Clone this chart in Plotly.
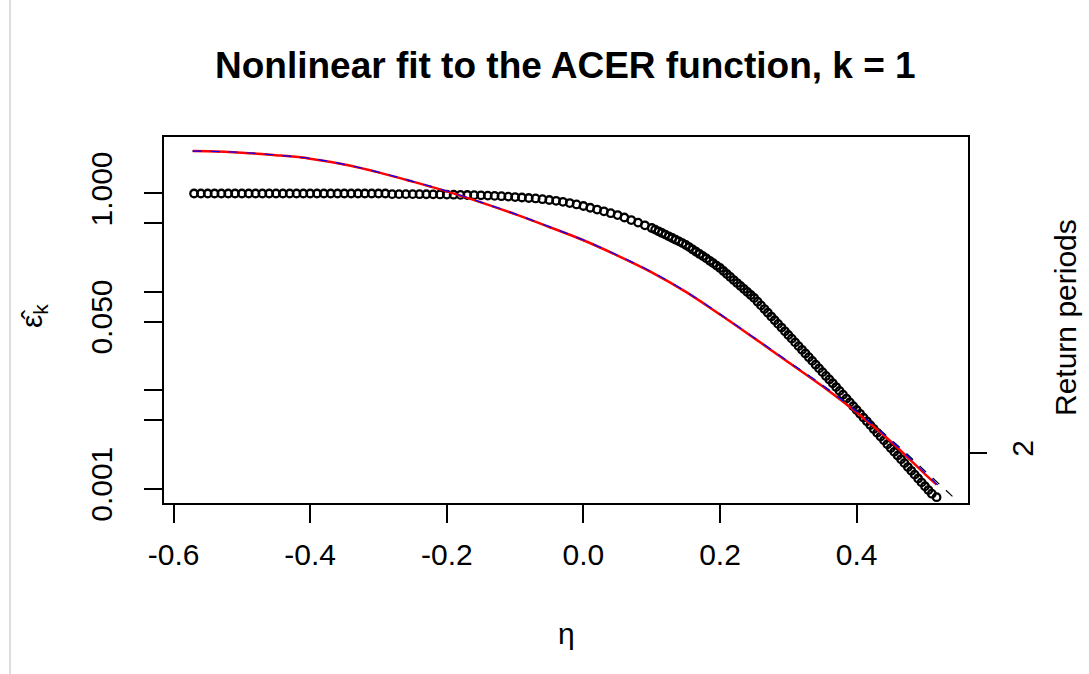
import plotly.graph_objects as go

# Empirical ACER estimates (open circles), coarse grid
eta_pts = [
    -0.57, -0.56, -0.55, -0.54, -0.53, -0.52, -0.51, -0.50, -0.49, -0.48,
    -0.47, -0.46, -0.45, -0.44, -0.43, -0.42, -0.41, -0.40, -0.39, -0.38,
    -0.37, -0.36, -0.35, -0.34, -0.33, -0.32, -0.31, -0.30, -0.29,
    -0.28, -0.27, -0.26, -0.25, -0.24, -0.23, -0.22, -0.21, -0.20, -0.19,
    -0.18, -0.17, -0.16, -0.15, -0.14, -0.13, -0.12, -0.11, -0.10, -0.09,
    -0.08, -0.07, -0.06, -0.05, -0.04, -0.03, -0.02, -0.01,
    0.00, 0.01, 0.02, 0.03, 0.04, 0.05, 0.06, 0.07, 0.08, 0.09,
    0.10, 0.11, 0.12, 0.13, 0.14, 0.15, 0.16, 0.17, 0.18, 0.19,
    0.20, 0.21, 0.22, 0.23, 0.24, 0.25, 0.26, 0.27, 0.28, 0.29,
    0.30, 0.31, 0.32, 0.33, 0.34, 0.35, 0.36, 0.37, 0.38, 0.39,
    0.40, 0.41, 0.42, 0.43, 0.44, 0.45, 0.46, 0.47, 0.48, 0.49,
    0.50, 0.51, 0.517,
]
acer_pts = [
    1.0, 1.0, 1.0, 1.0, 1.0, 1.0, 1.0, 1.0, 1.0, 1.0,
    1.0, 1.0, 1.0, 1.0, 1.0, 1.0, 1.0, 1.0, 1.0, 1.0,
    1.0, 1.0, 1.0, 1.0, 1.0, 1.0, 1.0, 1.0, 1.0,
    0.985, 0.985, 0.985, 0.985, 0.983, 0.982, 0.980, 0.978, 0.975, 0.972,
    0.968, 0.965, 0.962, 0.958, 0.952, 0.945, 0.938, 0.930, 0.920, 0.910,
    0.900, 0.890, 0.875, 0.859, 0.843, 0.823, 0.800, 0.774,
    0.746, 0.716, 0.687, 0.659, 0.631, 0.604, 0.570, 0.537, 0.506, 0.475,
    0.446, 0.413, 0.382, 0.353, 0.326, 0.300, 0.270, 0.243, 0.219, 0.196,
    0.175, 0.152, 0.132, 0.115, 0.0998, 0.0867, 0.0729, 0.0614, 0.0515, 0.0434,
    0.0365, 0.0307, 0.0258, 0.0217, 0.0182, 0.0153, 0.0129, 0.0108, 0.00902, 0.00754,
    0.00631, 0.00528, 0.00443, 0.00370, 0.00310, 0.00259, 0.00217, 0.00182, 0.00152, 0.00127,
    0.00106, 0.00089, 0.00082,
]

# Extra estimates between the grid levels on the steep tail
eta_pts_tail = [
    0.105, 0.115, 0.125, 0.135, 0.145, 0.155, 0.165, 0.175, 0.185, 0.195,
    0.205, 0.215, 0.225, 0.235, 0.245, 0.255, 0.265, 0.275, 0.285, 0.295,
    0.305, 0.315, 0.325, 0.335, 0.345, 0.355, 0.365, 0.375, 0.385, 0.395,
    0.405, 0.415, 0.425, 0.435, 0.445, 0.455, 0.465, 0.475, 0.485, 0.495,
    0.505,
]
acer_pts_tail = [
    0.429, 0.397, 0.367, 0.339, 0.313, 0.285, 0.256, 0.231, 0.207, 0.185,
    0.163, 0.142, 0.123, 0.107, 0.0930, 0.0795, 0.0669, 0.0562, 0.0473, 0.0398,
    0.0335, 0.0281, 0.0237, 0.0199, 0.0167, 0.0140, 0.0118, 0.00987, 0.00825, 0.00690,
    0.00577, 0.00484, 0.00405, 0.00339, 0.00283, 0.00237, 0.00199, 0.00166, 0.00139, 0.00116,
    0.00097,
]

# Fitted ACER curve and its bounds
eta_fit = [-0.572, -0.55, -0.50, -0.45, -0.40, -0.35, -0.30, -0.25, -0.20, -0.15,
           -0.10, -0.05, 0.00, 0.05, 0.10, 0.15, 0.20, 0.25, 0.30, 0.35,
           0.40, 0.45, 0.50, 0.517]
fit_vals = [2.70, 2.69, 2.60, 2.45, 2.26, 1.97, 1.64, 1.32, 1.05, 0.813,
            0.617, 0.457, 0.335, 0.234, 0.158, 0.100, 0.0589, 0.0339, 0.0193, 0.0110,
            0.00596, 0.00302, 0.00141, 0.00110]

eta_upper = [-0.572, -0.55, -0.50, -0.45, -0.40, -0.35, -0.30, -0.25, -0.20, -0.15,
             -0.10, -0.05, 0.00, 0.05, 0.10, 0.15, 0.20, 0.25, 0.30, 0.35,
             0.40, 0.45, 0.50, 0.525]
upper_vals = [2.70, 2.69, 2.61, 2.46, 2.27, 1.98, 1.65, 1.33, 1.06, 0.818,
              0.620, 0.460, 0.337, 0.236, 0.160, 0.101, 0.0595, 0.0343, 0.0196, 0.0112,
              0.00610, 0.00310, 0.00146, 0.00098]

eta_lower = [-0.572, -0.55, -0.50, -0.45, -0.40, -0.35, -0.30, -0.25, -0.20, -0.15,
             -0.10, -0.05, 0.00, 0.05, 0.10, 0.15, 0.20, 0.25, 0.30, 0.35,
             0.40, 0.45, 0.50, 0.545]
lower_vals = [2.69, 2.68, 2.59, 2.44, 2.25, 1.96, 1.63, 1.31, 1.04, 0.808,
              0.612, 0.453, 0.332, 0.232, 0.157, 0.0995, 0.0587, 0.0340, 0.0195, 0.0113,
              0.00620, 0.00318, 0.00152, 0.00078]

x_ticks = [-0.6, -0.4, -0.2, 0.0, 0.2, 0.4]
x_tick_labels = ["-0.6", "-0.4", "-0.2", "0.0", "0.2", "0.4"]
y_ticks = [0.001, 0.05, 1.0]
y_tick_labels = ["0.001", "0.050", "1.000"]
y_minor_ticks = [0.005, 0.01, 0.1, 0.5]
rp_ticks = [0.00231]
rp_labels = ["2"]

FONT = "Liberation Sans, Arial, sans-serif"
W, H = 1089, 674
L, R, T, B = 164, 121, 137, 171
PW, PH = W - L - R, H - T - B


def px(x):
    return (x - L) / PW


def py(y):
    return 1 - (y - T) / PH


circle = dict(symbol="circle-open", size=7.5, color="black", line=dict(width=2.3))

fig = go.Figure()

fig.add_trace(go.Scatter(x=eta_pts, y=acer_pts, mode="markers", marker=circle,
                         showlegend=False, hoverinfo="skip"))
fig.add_trace(go.Scatter(x=eta_pts_tail, y=acer_pts_tail, mode="markers", marker=circle,
                         showlegend=False, hoverinfo="skip"))
fig.add_trace(go.Scatter(
    x=eta_lower, y=lower_vals, mode="lines", line_shape="spline",
    line=dict(color="black", width=1.2, dash="dash"), showlegend=False,
))
fig.add_trace(go.Scatter(
    x=eta_fit, y=fit_vals, mode="lines", line_shape="spline",
    line=dict(color="red", width=2.5), showlegend=False,
))
fig.add_trace(go.Scatter(
    x=eta_upper, y=upper_vals, mode="lines", line_shape="spline",
    line=dict(color="blue", width=1.2, dash="dash"), showlegend=False,
))
# Keeps the right-hand return-period axis in place
fig.add_trace(go.Scatter(x=[None], y=[None], yaxis="y2", showlegend=False))

axis_common = dict(
    showgrid=False, zeroline=False, ticks="outside", ticklen=18, tickwidth=1.5,
    tickcolor="black", tickfont=dict(family=FONT, size=30, color="black"),
)

fig.update_layout(
    width=W, height=H,
    margin=dict(l=L, r=R, t=T, b=B),
    paper_bgcolor="white", plot_bgcolor="white",
    xaxis=dict(
        range=[-0.614, 0.563], tickmode="array", tickvals=x_ticks, ticktext=x_tick_labels,
        showline=True, linecolor="black", linewidth=1.5, mirror=True,
        ticklabelstandoff=6, **axis_common,
    ),
    yaxis=dict(
        type="log", range=[-3.145, 0.574], tickmode="array", tickvals=y_ticks,
        ticktext=y_tick_labels, tickangle=-90,
        minor=dict(tickmode="array", tickvals=y_minor_ticks, ticks="outside", ticklen=18,
                   tickwidth=1.5, tickcolor="black", showgrid=False),
        showline=True, linecolor="black", linewidth=1.5, mirror=True,
        ticklabelstandoff=20, **axis_common,
    ),
    yaxis2=dict(
        type="log", range=[-3.145, 0.574], overlaying="y", side="right",
        tickmode="array", tickvals=rp_ticks, ticktext=rp_labels, tickangle=-90,
        showline=False, ticklabelstandoff=10, **axis_common,
    ),
    annotations=[
        dict(text="<b>Nonlinear fit to the ACER function, k = 1</b>", x=px(565), y=py(66),
             xref="paper", yref="paper", showarrow=False, xanchor="center", yanchor="middle",
             font=dict(family=FONT, size=37, color="black")),
        dict(text="η", x=px(566), y=py(633), xref="paper", yref="paper", showarrow=False,
             xanchor="center", yanchor="middle", font=dict(family=FONT, size=30, color="black")),
        dict(text="ε\u0302<sub>k</sub>", x=px(33), y=py(316), xref="paper", yref="paper",
             showarrow=False, textangle=-90, xanchor="center", yanchor="middle",
             font=dict(family=FONT, size=30, color="black")),
        dict(text="Return periods", x=px(1065), y=py(318), xref="paper", yref="paper",
             showarrow=False, textangle=-90, xanchor="center", yanchor="middle",
             font=dict(family=FONT, size=30, color="black")),
    ],
    shapes=[
        dict(type="line", xref="paper", yref="paper", x0=px(10), x1=px(10), y0=py(0), y1=py(674),
             line=dict(color="#dddddd", width=2)),
    ],
)

fig.write_html("out.html")
